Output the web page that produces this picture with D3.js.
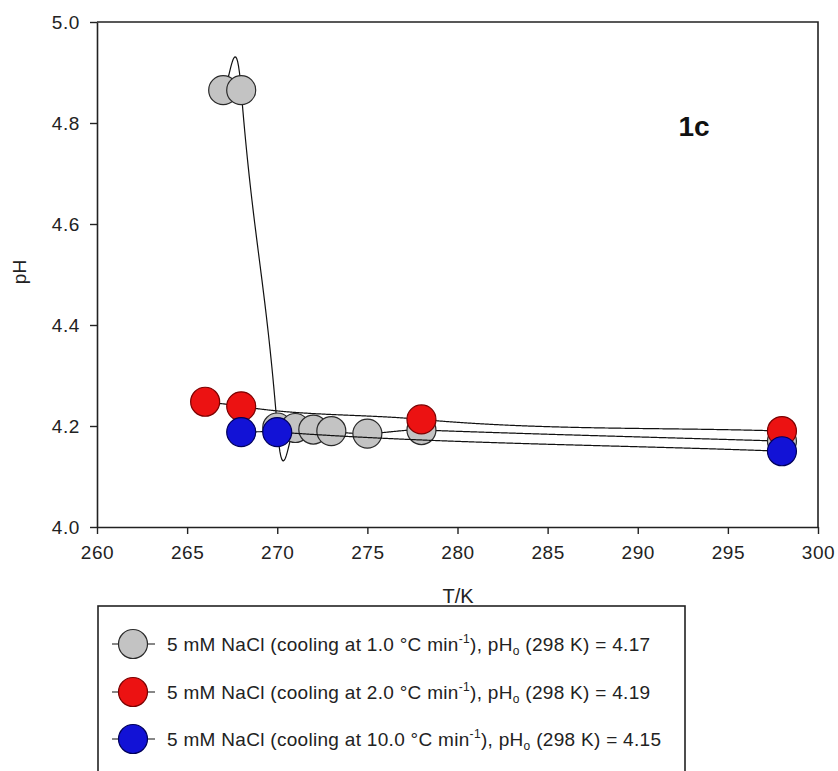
<!DOCTYPE html>
<html>
<head>
<meta charset="utf-8">
<script src="https://cdn.jsdelivr.net/npm/d3@7"></script>
<style>
  html, body { margin: 0; padding: 0; background: #fff; }
  svg { display: block; font-family: "Liberation Sans", Arial, sans-serif; }
</style>
</head>
<body>
<svg id="chart" width="838" height="771"></svg>
<script>
// pH of frozen 5 mM NaCl solutions vs temperature at three cooling rates
const tempsSlow = [267, 268, 270, 271, 272, 273, 275, 278, 298];
const phSlow    = [4.865, 4.865, 4.197, 4.196, 4.193, 4.190, 4.185, 4.192, 4.17];

const tempsMid  = [266, 268, 278, 298];
const phMid     = [4.248, 4.239, 4.213, 4.19];

const tempsFast = [268, 270, 298];
const phFast    = [4.188, 4.188, 4.15];

const xTicks = [260, 265, 270, 275, 280, 285, 290, 295, 300];
const yTicks = [4.0, 4.2, 4.4, 4.6, 4.8, 5.0];

const seriesNames = ["1.0", "2.0", "10.0"];
const ph298 = ["4.17", "4.19", "4.15"];

const series = [
  { t: tempsSlow, ph: phSlow, fill: "#c3c3c3", stroke: "#2a2a2a" },
  { t: tempsMid,  ph: phMid,  fill: "#ec1212", stroke: "#7a0000" },
  { t: tempsFast, ph: phFast, fill: "#1212d6", stroke: "#00005a" }
];

const svg = d3.select("#chart");
const x = d3.scaleLinear().domain([260, 300]).range([97, 818]);
const y = d3.scaleLinear().domain([4.0, 5.0]).range([527, 22]);
const ink = "#222";
const r = 14.5;
const fontFamily = "Liberation Sans, Arial, sans-serif";

// Hermite spline of pH over T with loose (overshooting) interior tangents,
// sampled finely so the path follows the curve between symbols
function splinePoints(xs, ys, gain = 2, step = 0.05) {
  const n = xs.length;
  const m = xs.map((_, i) => {
    const a = Math.max(0, i - 1), b = Math.min(n - 1, i + 1);
    const g = (i === 0 || i === n - 1) ? 1 : gain;
    return g * (ys[b] - ys[a]) / (xs[b] - xs[a]);
  });
  const out = [];
  for (let j = 0; j < n - 1; j++) {
    const h = xs[j + 1] - xs[j];
    const k = Math.max(4, Math.ceil(h / step));
    for (let s = 0; s < k; s++) {
      const t = s / k, t2 = t * t, t3 = t2 * t;
      const v = (2 * t3 - 3 * t2 + 1) * ys[j] + (t3 - 2 * t2 + t) * h * m[j]
              + (-2 * t3 + 3 * t2) * ys[j + 1] + (t3 - t2) * h * m[j + 1];
      out.push([xs[j] + t * h, v]);
    }
  }
  out.push([xs[n - 1], ys[n - 1]]);
  return out;
}

// frame: top and right edges
svg.append("path")
  .attr("d", `M${x(260)},${y(5)}H${x(300)}V${y(4)}`)
  .attr("fill", "none").attr("stroke", ink).attr("stroke-width", 1.6);

// axes
const xAxis = svg.append("g").attr("transform", `translate(0,${y(4)})`)
  .call(d3.axisBottom(x).tickValues(xTicks).tickFormat(d3.format("d"))
        .tickSize(7).tickSizeOuter(0).tickPadding(12));
const yAxis = svg.append("g").attr("transform", `translate(${x(260)},0)`)
  .call(d3.axisLeft(y).tickValues(yTicks).tickFormat(d3.format(".1f"))
        .tickSize(7).tickSizeOuter(0).tickPadding(10));
[xAxis, yAxis].forEach(g => {
  g.select(".domain").attr("stroke", ink).attr("stroke-width", 1.6);
  g.selectAll(".tick line").attr("stroke", ink).attr("stroke-width", 1.4);
  g.selectAll(".tick text").attr("fill", ink)
    .attr("font-size", 19).attr("letter-spacing", 0.6).attr("font-family", fontFamily);
});

// axis titles
svg.append("text").attr("x", 458).attr("y", 603).attr("text-anchor", "middle")
  .attr("font-size", 20).attr("fill", ink).text("T/K");
svg.append("text").attr("transform", "translate(26,272) rotate(-90)")
  .attr("text-anchor", "middle").attr("font-size", 19).attr("fill", ink).text("pH");

// panel tag
svg.append("text").attr("x", 694).attr("y", 136).attr("text-anchor", "middle")
  .attr("font-size", 28).attr("font-weight", "bold").attr("fill", "#111").text("1c");

// smooth curve through each series, then its symbols
const line = d3.line().x(d => x(d[0])).y(d => y(d[1]));
series.forEach(s => {
  const pts = s.t.map((t, i) => [t, s.ph[i]]);
  svg.append("path").datum(splinePoints(s.t, s.ph)).attr("d", line)
    .attr("fill", "none").attr("stroke", "#111").attr("stroke-width", 1.2);
  svg.append("g").selectAll("circle").data(pts).join("circle")
    .attr("cx", d => x(d[0])).attr("cy", d => y(d[1])).attr("r", r)
    .attr("fill", s.fill).attr("stroke", s.stroke).attr("stroke-width", 1.2);
});

// legend
const lg = svg.append("g");
lg.append("rect").attr("x", 98).attr("y", 606).attr("width", 587).attr("height", 200)
  .attr("fill", "#fff").attr("stroke", ink).attr("stroke-width", 1.6);
const rowY = [644, 692, 739];
series.forEach((s, i) => {
  const cy = rowY[i];
  lg.append("line").attr("x1", 112).attr("x2", 155).attr("y1", cy).attr("y2", cy)
    .attr("stroke", "#111").attr("stroke-width", 1.2);
  lg.append("circle").attr("cx", 133).attr("cy", cy).attr("r", r)
    .attr("fill", s.fill).attr("stroke", s.stroke).attr("stroke-width", 1.2);
  const t = lg.append("text").attr("x", 167).attr("y", cy + 7)
    .attr("font-size", 19).attr("letter-spacing", 0.3).attr("fill", ink);
  t.append("tspan").text(`5 mM NaCl (cooling at ${seriesNames[i]} °C min`);
  t.append("tspan").attr("font-size", 12).attr("dy", -8).text("-1");
  t.append("tspan").attr("dy", 8).text("), pH");
  t.append("tspan").attr("font-size", 12).attr("dy", 4).text("o");
  t.append("tspan").attr("dy", -4).text(` (298 K) = ${ph298[i]}`);
});
</script>
</body>
</html>
